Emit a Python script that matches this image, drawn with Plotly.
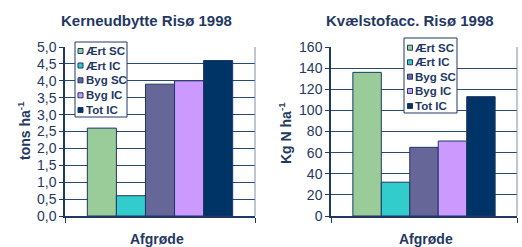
import plotly.graph_objects as go

series = ["Ært SC", "Ært IC", "Byg SC", "Byg IC", "Tot IC"]
colors = ["#99CC99", "#33CCCC", "#666699", "#CC99FF", "#003366"]
yield_vals = [2.6, 0.6, 3.9, 4.0, 4.6]
n_vals = [136, 32, 65, 71, 113]

W, H = 522, 247
NAVY = "#1F3864"
FONT = "Liberation Sans"

def px(x):
    return x / W

def py(y):
    return 1 - y / H

fig = go.Figure()
for i, name in enumerate(series):
    fig.add_trace(go.Bar(x=[0], y=[yield_vals[i]], name=name, marker_color=colors[i],
                         marker_line=dict(color=NAVY, width=1), xaxis="x", yaxis="y",
                         offsetgroup=str(i), showlegend=False))
for i, name in enumerate(series):
    fig.add_trace(go.Bar(x=[0], y=[n_vals[i]], name=name, marker_color=colors[i],
                         marker_line=dict(color=NAVY, width=1), xaxis="x2", yaxis="y2",
                         offsetgroup=str(i), showlegend=False))

ydom = [py(216), py(47)]
xcommon = dict(range=[-0.5, 0.5], tickvals=[-0.5, 0.5], ticks="outside", ticklen=5,
               tickcolor=NAVY, tickwidth=1, showticklabels=False, showline=True,
               linecolor=NAVY, linewidth=1.5, showgrid=False, zeroline=False)
ycommon = dict(ticks="outside", ticklen=4, tickcolor=NAVY, showline=True, linecolor=NAVY,
               linewidth=1.5, showgrid=True, gridcolor="#27487A", gridwidth=1.2,
               zeroline=False, tickfont=dict(family=FONT, size=14, color=NAVY))

fig.update_layout(
    width=W, height=H, margin=dict(l=0, r=0, t=0, b=0, autoexpand=False),
    paper_bgcolor="white", plot_bgcolor="white",
    barmode="group", bargap=0.235, bargroupgap=0,
    separators=",.",
    font=dict(family=FONT, color=NAVY),
    xaxis=dict(domain=[px(65), px(255)], anchor="y", **xcommon),
    yaxis=dict(domain=ydom, anchor="x", range=[0, 5], dtick=0.5, tickformat=".1f", **ycommon),
    xaxis2=dict(domain=[px(331), px(517)], anchor="y2", **xcommon),
    yaxis2=dict(domain=ydom, anchor="x2", range=[0, 160], dtick=20, **ycommon),
)

shapes = []
annotations = []

# right plot borders
for xr, yr in (("x domain", "y domain"), ("x2 domain", "y2 domain")):
    shapes.append(dict(type="line", xref=xr, yref=yr, x0=1, x1=1, y0=0, y1=1,
                       line=dict(color="#7F8FA6", width=1)))

def bold_text(x, y, text, size=13, **kw):
    annotations.append(dict(x=px(x), y=py(y), xref="paper", yref="paper", text="<b>" + text + "</b>",
                            xanchor="center", yanchor="middle",
                            showarrow=False, font=dict(family=FONT, size=size, color=NAVY),
                            **kw))

# titles
bold_text(146.5, 20.5, "Kerneudbytte Risø 1998", 15)
bold_text(409.5, 20.5, "Kvælstofacc. Risø 1998", 15)
bold_text(157, 239, "Afgrøde", 14)
bold_text(426, 239, "Afgrøde", 14)
bold_text(24, 131, "tons ha<sup>-1</sup>", 14, textangle=-90)
bold_text(285, 133, "Kg N ha<sup>-1</sup>", 14, textangle=-90)

# legends
def legend(x0, x1, y0, y1, sw_x, txt_x, ys):
    shapes.append(dict(type="rect", xref="paper", yref="paper", x0=px(x0), x1=px(x1),
                       y0=py(y1), y1=py(y0), fillcolor="white",
                       line=dict(color=NAVY, width=1), layer="above"))
    for i, name in enumerate(series):
        yc = ys[i]
        shapes.append(dict(type="rect", xref="paper", yref="paper",
                           x0=px(sw_x), x1=px(sw_x + 5), y0=py(yc + 2.5), y1=py(yc - 2.5),
                           fillcolor=colors[i], line=dict(color=NAVY, width=1), layer="above"))
        annotations.append(dict(x=px(txt_x), y=py(yc), xref="paper", yref="paper",
                                text="<b>" + name + "</b>",
                                showarrow=False, xanchor="left", yanchor="middle",
                                font=dict(family=FONT, size=11.5, color=NAVY)))

legend(75, 127, 42, 117, 78, 84, [51, 65.5, 80.3, 95.3, 110])
legend(404, 457, 38, 113, 407.5, 413, [47.7, 62.3, 76.7, 91, 106])

fig.update_layout(shapes=shapes, annotations=annotations)
fig.write_html("out.html", config={"displayModeBar": False},
               post_script="document.body.style.margin='0px';")
